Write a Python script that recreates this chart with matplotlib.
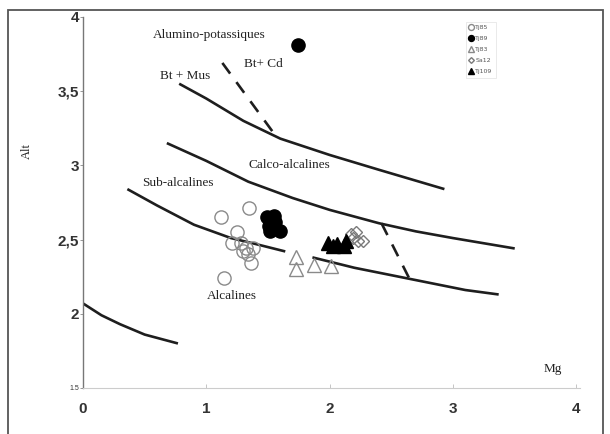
import matplotlib.pyplot as plt
from matplotlib.patches import Rectangle

# boundary curves (Mg, Alt)
c1_x = [0.0, 0.15, 0.3, 0.5, 0.77]
c1_y = [2.07, 1.99, 1.93, 1.86, 1.80]

c2a_x = [0.36, 0.6, 0.9, 1.2, 1.4, 1.64]
c2a_y = [2.84, 2.73, 2.60, 2.51, 2.47, 2.42]
c2b_x = [1.86, 2.2, 2.5, 2.8, 3.1, 3.37]
c2b_y = [2.38, 2.31, 2.26, 2.21, 2.16, 2.13]

c3_x = [0.68, 1.0, 1.34, 1.7, 2.0, 2.4, 2.7, 3.0, 3.5]
c3_y = [3.15, 3.03, 2.89, 2.78, 2.70, 2.61, 2.555, 2.51, 2.44]

c4_x = [0.78, 1.0, 1.3, 1.6, 2.0, 2.4, 2.93]
c4_y = [3.55, 3.45, 3.30, 3.18, 3.07, 2.97, 2.84]

d1_x = [1.13, 1.57]
d1_y = [3.69, 3.19]
d2_x = [2.42, 2.65]
d2_y = [2.61, 2.23]

# samples
tj85_x = [1.12, 1.35, 1.25, 1.21, 1.28, 1.32, 1.38, 1.34, 1.36, 1.14, 1.30]
tj85_y = [2.65, 2.71, 2.55, 2.48, 2.48, 2.44, 2.44, 2.40, 2.34, 2.24, 2.42]
tj89_x = [1.74, 1.49, 1.55, 1.51, 1.56, 1.52, 1.60]
tj89_y = [3.81, 2.65, 2.66, 2.59, 2.62, 2.56, 2.56]
tj83_x = [1.73, 1.73, 1.87, 2.01]
tj83_y = [2.38, 2.30, 2.33, 2.32]
sa12_x = [2.17, 2.21, 2.23, 2.27, 2.19]
sa12_y = [2.54, 2.55, 2.49, 2.49, 2.51]
tj109_x = [1.99, 2.03, 2.06, 2.12, 2.13]
tj109_y = [2.48, 2.46, 2.47, 2.46, 2.49]

xticks = [0, 1, 2, 3, 4]
yticks = [1.5, 2, 2.5, 3, 3.5, 4]
ylabels = ['1.5', '2', '2,5', '3', '3,5', '4']

fig = plt.figure(figsize=(6.1, 4.34), dpi=100)
fig.patch.set_facecolor('white')
ax = fig.add_axes([0.136, 0.106, 0.815, 0.855])

lc = '#1e1e1e'
for xs, ys in [(c1_x, c1_y), (c2a_x, c2a_y), (c2b_x, c2b_y), (c3_x, c3_y), (c4_x, c4_y)]:
    ax.plot(xs, ys, color=lc, lw=1.9, solid_capstyle='butt')
for xs, ys in [(d1_x, d1_y), (d2_x, d2_y)]:
    ax.plot(xs, ys, color=lc, lw=1.9, linestyle=(0, (5, 4)))

ax.plot(tj85_x, tj85_y, 'o', ms=9.5, mfc='none', mec='#8a8a8a', mew=1.0, label='Tj85')
ax.plot(tj89_x, tj89_y, 'o', ms=9.5, mfc='black', mec='black', label='Tj89')
ax.plot(tj83_x, tj83_y, '^', ms=9.5, mfc='none', mec='#8a8a8a', mew=1.0, label='Tj83')
ax.plot(sa12_x, sa12_y, 'D', ms=6.5, mfc='none', mec='#7a7a7a', mew=1.0, label='Sa12')
ax.plot(tj109_x, tj109_y, '^', ms=9.5, mfc='black', mec='black', label='Tj109')

leg = ax.legend(loc='upper left', bbox_to_anchor=(0.765, 0.995), fontsize=4.5,
                markerscale=0.45, handlelength=0.6, handletextpad=0.3,
                labelspacing=0.9, borderpad=0.5, frameon=True, fancybox=False)
leg.get_frame().set_edgecolor('#e0e0e0')
leg.get_frame().set_linewidth(0.6)
for t in leg.get_texts():
    t.set_color('#555555')

serif = 'Liberation Serif'
tc = '#222222'
ax.text(1.02, 3.88, 'Alumino-potassiques', family=serif, fontsize=9.5, color=tc, ha='center', va='center')
ax.text(1.46, 3.68, 'Bt+ Cd', family=serif, fontsize=9.5, color=tc, ha='center', va='center')
ax.text(0.83, 3.60, 'Bt + Mus', family=serif, fontsize=9.5, color=tc, ha='center', va='center')
ax.text(1.67, 3.00, 'Calco-alcalines', family=serif, fontsize=9.5, color=tc, ha='center', va='center')
ax.text(0.77, 2.88, 'Sub-alcalines', family=serif, fontsize=9.5, color=tc, ha='center', va='center')
ax.text(1.21, 2.12, 'Alcalines', family=serif, fontsize=9.5, color=tc, ha='center', va='center')
ax.text(3.81, 1.63, 'Mg', family=serif, fontsize=9.5, color=tc, ha='center', va='center')

ax.set_xlim(0, 4.03)
ax.set_ylim(1.5, 4.0)
ax.set_xticks(xticks)
ax.set_xticklabels([str(v) for v in xticks], family='Liberation Sans', fontsize=11,
                   fontweight='bold', color='#333333')
ax.set_yticks(yticks)
ax.set_yticklabels(ylabels, family='Liberation Sans', fontsize=11,
                   fontweight='bold', color='#333333')
ax.get_yticklabels()[0].set_fontsize(5)
ax.get_yticklabels()[0].set_fontweight('normal')
ax.tick_params(axis='x', direction='in', length=3, width=0.6, color='#bbbbbb', pad=10)
ax.tick_params(axis='y', direction='out', length=2, width=0.6, color='#888888', pad=1)

ax.set_ylabel('Alt', family=serif, fontsize=9, color=tc, labelpad=0)
ax.yaxis.set_label_coords(-0.10, 0.64)

for s in ['top', 'right']:
    ax.spines[s].set_visible(False)
ax.spines['left'].set_color('#777777')
ax.spines['left'].set_linewidth(1.0)
ax.spines['bottom'].set_color('#cccccc')
ax.spines['bottom'].set_linewidth(0.8)

# outer frame around the figure
frame = Rectangle((0.013, -0.05), 0.975, 1.027, transform=fig.transFigure,
                  fill=False, edgecolor='#555555', lw=1.3)
fig.patches.append(frame)

fig.savefig('out.png', dpi=100)
